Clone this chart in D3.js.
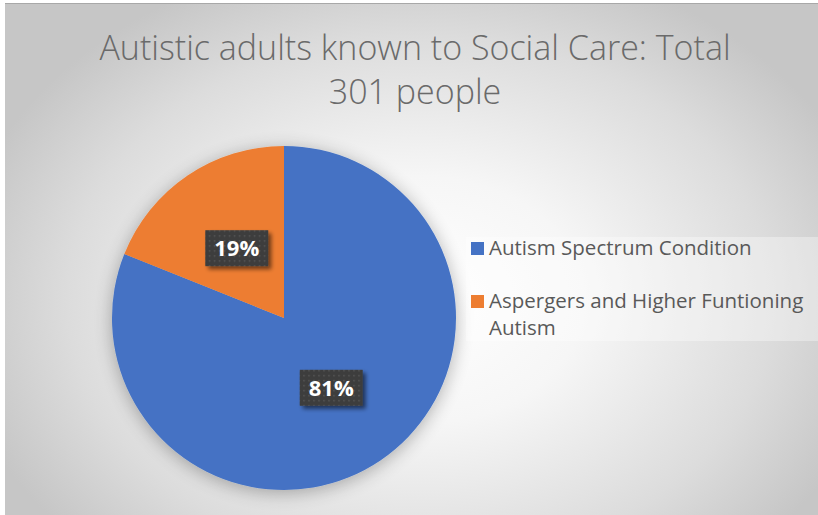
<!DOCTYPE html>
<html>
<head>
<meta charset="utf-8">
<script src="https://cdn.jsdelivr.net/npm/d3@7"></script>
<style>
  html, body { margin: 0; padding: 0; background: #ffffff; }
  svg { display: block; }
</style>
</head>
<body>
<svg id="chart" width="818" height="515"></svg>
<script>
// Chart data
const titleLines = ["Autistic adults known to Social Care: Total", "301 people"];
const categories = ["Autism Spectrum Condition", "Aspergers and Higher Funtioning Autism"];
const legendLines = [["Autism Spectrum Condition"], ["Aspergers and Higher Funtioning", "Autism"]];
const values = [244, 57];
const colors = ["#4472c4", "#ed7d31"];

const svg = d3.select("#chart");
const W = 818, H = 515;
const frame = { x: 5, y: 3, w: 813, h: 512 };
const FONT = "'Open Sans', Lato, sans-serif";

const defs = svg.append("defs");

// Background radial gradient
const bg = defs.append("radialGradient").attr("id", "bgGrad")
  .attr("gradientUnits", "userSpaceOnUse")
  .attr("cx", 420).attr("cy", 300).attr("r", 470)
  .attr("gradientTransform", "translate(420,300) scale(1,0.75) translate(-420,-300)");
bg.append("stop").attr("offset", "0%").attr("stop-color", "#ffffff");
bg.append("stop").attr("offset", "35%").attr("stop-color", "#f6f6f6");
bg.append("stop").attr("offset", "75%").attr("stop-color", "#dcdcdc");
bg.append("stop").attr("offset", "100%").attr("stop-color", "#c6c6c6");

// Soft shadows
const pieShadow = defs.append("filter").attr("id", "pieShadow")
  .attr("x", "-20%").attr("y", "-20%").attr("width", "140%").attr("height", "140%");
pieShadow.append("feGaussianBlur").attr("in", "SourceAlpha").attr("stdDeviation", 9).attr("result", "b");
pieShadow.append("feOffset").attr("in", "b").attr("dx", 0).attr("dy", 3).attr("result", "o");
pieShadow.append("feComponentTransfer").attr("in", "o").attr("result", "s")
  .append("feFuncA").attr("type", "linear").attr("slope", 0.3);
const m1 = pieShadow.append("feMerge");
m1.append("feMergeNode").attr("in", "s");
m1.append("feMergeNode").attr("in", "SourceGraphic");

const boxShadow = defs.append("filter").attr("id", "boxShadow")
  .attr("x", "-30%").attr("y", "-30%").attr("width", "160%").attr("height", "160%");
boxShadow.append("feGaussianBlur").attr("in", "SourceAlpha").attr("stdDeviation", 2).attr("result", "b");
boxShadow.append("feOffset").attr("in", "b").attr("dx", 3).attr("dy", 3).attr("result", "o");
boxShadow.append("feComponentTransfer").attr("in", "o").attr("result", "s")
  .append("feFuncA").attr("type", "linear").attr("slope", 0.55);
const m2 = boxShadow.append("feMerge");
m2.append("feMergeNode").attr("in", "s");
m2.append("feMergeNode").attr("in", "SourceGraphic");

// Dotted dark fill for data labels
const pat = defs.append("pattern").attr("id", "dots")
  .attr("patternUnits", "userSpaceOnUse").attr("width", 5).attr("height", 5);
pat.append("rect").attr("width", 5).attr("height", 5).attr("fill", "#3d3d3d");
pat.append("rect").attr("x", 2).attr("y", 2).attr("width", 1.5).attr("height", 1.5).attr("fill", "#575757");

// Chart area
svg.append("rect")
  .attr("x", frame.x).attr("y", frame.y).attr("width", frame.w).attr("height", frame.h)
  .attr("fill", "url(#bgGrad)");
svg.append("line").attr("x1", frame.x).attr("x2", W).attr("y1", frame.y + 0.5).attr("y2", frame.y + 0.5)
  .attr("stroke", "#a8a8a8").attr("stroke-width", 1);

// Title
svg.append("g").selectAll("text").data(titleLines).join("text")
  .attr("x", 415).attr("y", (d, i) => 60 + i * 44)
  .attr("text-anchor", "middle")
  .attr("font-family", FONT)
  .attr("font-weight", 300)
  .attr("font-size", 34)
  .attr("fill", "#6a6a6a")
  .text(d => d);

// Pie
const cx = 284, cy = 318, R = 172;
const pie = d3.pie().sort(null).value(d => d)(values);
const arc = d3.arc().innerRadius(0).outerRadius(R);
const total = d3.sum(values);

const g = svg.append("g").attr("transform", `translate(${cx},${cy})`);
g.append("g").attr("filter", "url(#pieShadow)")
  .selectAll("path").data(pie).join("path")
  .attr("d", arc)
  .attr("fill", (d, i) => colors[i]);

// Data labels
const labelArc = d3.arc().innerRadius(R * 0.49).outerRadius(R * 0.49);
const labels = g.append("g").selectAll("g").data(pie).join("g")
  .attr("transform", d => {
    const [x, y] = labelArc.centroid(d);
    return `translate(${x},${y})`;
  });
labels.append("rect")
  .attr("x", -31.5).attr("y", -18).attr("width", 63).attr("height", 36)
  .attr("fill", "url(#dots)")
  .attr("filter", "url(#boxShadow)");
labels.append("text")
  .attr("text-anchor", "middle").attr("dy", "0.36em")
  .attr("font-family", FONT)
  .attr("font-weight", 700).attr("font-size", 22)
  .attr("fill", "#ffffff")
  .text(d => Math.round(d.data / total * 100) + "%");

// Legend
const legend = svg.append("g");
legend.append("rect")
  .attr("x", 466).attr("y", 237).attr("width", W - 466).attr("height", 104)
  .attr("fill", "#ffffff").attr("fill-opacity", 0.35);
const rowY = [255, 308];
const items = legend.selectAll("g.item").data(categories).join("g").attr("class", "item");
items.append("rect")
  .attr("x", 471).attr("y", (d, i) => rowY[i] - 13)
  .attr("width", 13).attr("height", 13)
  .attr("fill", (d, i) => colors[i]);
items.append("text")
  .attr("x", 489).attr("y", (d, i) => rowY[i])
  .attr("font-family", FONT)
  .attr("font-size", 20.5)
  .attr("fill", "#595959")
  .selectAll("tspan").data((d, i) => legendLines[i]).join("tspan")
  .attr("x", 489).attr("dy", (d, j) => j === 0 ? 0 : 27)
  .text(d => d);
</script>
</body>
</html>
